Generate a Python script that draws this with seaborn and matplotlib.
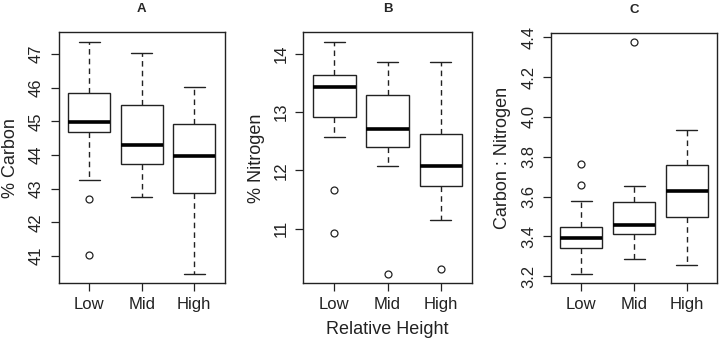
import numpy as np
import pandas as pd
import seaborn as sns
import matplotlib
matplotlib.use("Agg")
import matplotlib.pyplot as plt

groups = ["Low", "Mid", "High"]

# box statistics (whisker low, Q1, median, Q3, whisker high, outliers)
carbon_lo = [43.25, 42.75, 40.46]
carbon_q1 = [44.68, 43.74, 42.88]
carbon_med = [44.99, 44.29, 43.97]
carbon_q3 = [45.85, 45.47, 44.91]
carbon_hi = [47.35, 47.03, 46.01]
carbon_out = [[42.68, 41.04], [], []]

nitrogen_lo = [12.57, 12.08, 11.14]
nitrogen_q1 = [12.91, 12.41, 11.74]
nitrogen_med = [13.43, 12.71, 12.08]
nitrogen_q3 = [13.63, 13.30, 12.63]
nitrogen_hi = [14.20, 13.86, 13.86]
nitrogen_out = [[11.66, 10.92], [10.22], [10.30]]

cn_lo = [3.210, 3.285, 3.255]
cn_q1 = [3.341, 3.414, 3.495]
cn_med = [3.389, 3.456, 3.630]
cn_q3 = [3.449, 3.570, 3.757]
cn_hi = [3.578, 3.652, 3.936]
cn_out = [[3.761, 3.659], [4.377], []]


def make_long(lo, q1, med, q3, hi, out):
    # rebuild a sample whose boxplot statistics equal the read values
    rows = []
    for i, g in enumerate(groups):
        vals = [lo[i]] + [q1[i]] * 10 + [med[i]] * 10 + [q3[i]] * 10 + [hi[i]] + out[i]
        rows += [(g, v) for v in vals]
    return pd.DataFrame(rows, columns=["height", "value"])


panels = [
    ("A", "% Carbon", make_long(carbon_lo, carbon_q1, carbon_med, carbon_q3, carbon_hi, carbon_out),
     (40.19, 47.64), [41, 42, 43, 44, 45, 46, 47], "{:.0f}"),
    ("B", "% Nitrogen", make_long(nitrogen_lo, nitrogen_q1, nitrogen_med, nitrogen_q3, nitrogen_hi, nitrogen_out),
     (10.06, 14.37), [11, 12, 13, 14], "{:.0f}"),
    ("C", "Carbon : Nitrogen", make_long(cn_lo, cn_q1, cn_med, cn_q3, cn_hi, cn_out),
     (3.165, 4.42), [3.2, 3.4, 3.6, 3.8, 4.0, 4.2, 4.4], "{:.1f}"),
]

sns.set_style("white")
plt.rcParams["font.family"] = ["Liberation Sans", "DejaVu Sans"]

fig = plt.figure(figsize=(7.19, 3.41), dpi=100)
positions = [
    [0.0816, 0.169, 0.2309, 0.736],
    [0.4219, 0.169, 0.2342, 0.736],
    [0.766, 0.170, 0.2317, 0.732],
]
label_x = [-0.236, -0.229, -0.236]

line_col = "#222222"
for k, (title, ylab, df, ylim, yticks, fmt) in enumerate(panels):
    ax = fig.add_axes(positions[k])
    sns.boxplot(
        data=df, x="height", y="value", order=groups, ax=ax,
        color="white", linecolor=line_col, linewidth=1.0, width=0.8, whis=1.5,
        fliersize=5,
        whiskerprops={"linestyle": (0, (4, 3))},
        medianprops={"linewidth": 2.6, "color": "black"},
        flierprops={"marker": "o", "markerfacecolor": "none",
                    "markeredgecolor": line_col, "markeredgewidth": 0.9},
    )
    ax.set_xlim(-0.58, 2.58)
    ax.set_ylim(*ylim)
    ax.set_yticks(yticks)
    ax.set_yticklabels([fmt.format(v) for v in yticks])
    for s in ax.spines.values():
        s.set_visible(True)
        s.set_color(line_col)
        s.set_linewidth(1.0)
    ax.tick_params(axis="both", direction="out", length=6, width=0.9, color=line_col,
                   labelsize=12, labelcolor="#222222", left=True, bottom=True)
    ax.tick_params(axis="x", pad=4)
    ax.tick_params(axis="y", pad=4.5, labelrotation=90)
    for lab in ax.get_yticklabels():
        lab.set_va("center")
    ax.set_title(title, fontweight="bold", fontsize=9.5, pad=15)
    ax.set_ylabel(ylab, fontsize=13, color="#222222")
    ax.yaxis.set_label_coords(label_x[k], 0.5)
    if k == 1:
        ax.set_xlabel("Relative Height", fontsize=13, color="#222222")
        ax.xaxis.set_label_coords(0.5, -0.148)
    else:
        ax.set_xlabel("")

fig.savefig("out.png", dpi=100)
